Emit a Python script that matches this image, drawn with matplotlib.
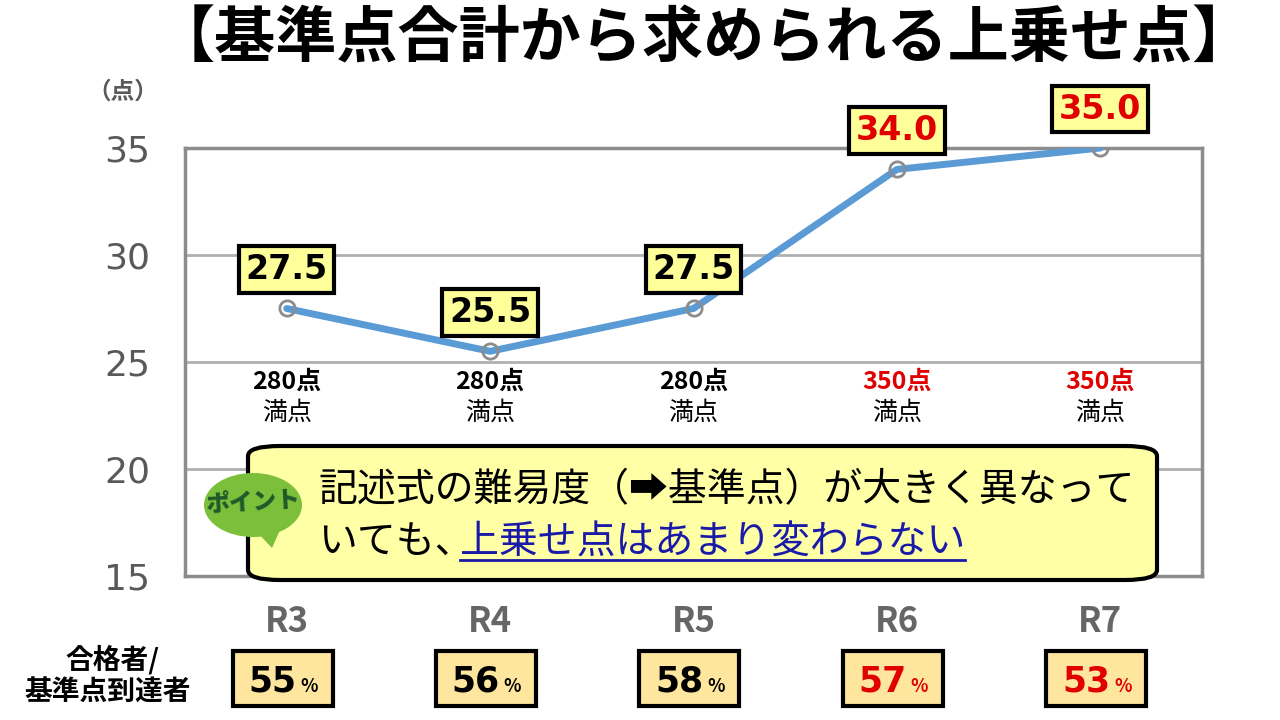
import matplotlib.pyplot as plt
from matplotlib.patches import FancyBboxPatch, Rectangle, Ellipse, Polygon
from matplotlib.transforms import blended_transform_factory
import numpy as np

plt.rcParams['font.family'] = ['Noto Sans CJK JP', 'DejaVu Sans']

# Data
years = ['R3', 'R4', 'R5', 'R6', 'R7']
bonus_points = [27.5, 25.5, 27.5, 34.0, 35.0]
full_scores = ['280点', '280点', '280点', '350点', '350点']
pass_rates = [55, 56, 58, 57, 53]
highlight = [False, False, False, True, True]

W, H = 1280, 720
fig = plt.figure(figsize=(12.8, 7.2), dpi=100)


def fx(x):
    return x / W


def fy(y):
    return 1 - y / H


ax = fig.add_axes([fx(185), fy(576), fx(1202) - fx(185), fy(148) - fy(576)])
x = np.arange(len(years))
ax.set_xlim(-0.5, len(years) - 0.5)
ax.set_ylim(15, 35)
ax.set_yticks([15, 20, 25, 30, 35])
ax.yaxis.grid(True, color='#b0b0b0', lw=2)
ax.set_axisbelow(True)
for s in ax.spines.values():
    s.set_color('#8c8c8c')
    s.set_linewidth(2.5)
ax.tick_params(axis='y', length=0, pad=25, labelsize=26, labelcolor='#595959')
ax.set_yticklabels(['15', '20', '25', '30', '35'], fontfamily='DejaVu Sans')
ax.set_xticks(x)
ax.set_xticklabels(years, fontsize=25, color='#666666', fontweight='bold')
ax.tick_params(axis='x', length=0, pad=20)

ax.plot(x, bonus_points, color='#5B9BD5', lw=5, solid_capstyle='round', zorder=3)
ax.plot(x, bonus_points, 'o', ms=11, mfc='none', mec='#8c8c8c', mew=2, zorder=4)

fig.text(fx(123), fy(92), '（点）', fontsize=17, color='#595959', ha='center', va='center',
         fontweight='bold')

# value labels
for xi, v, hl in zip(x, bonus_points, highlight):
    ax.annotate(f'{v:.1f}', (xi, v), xytext=(0, 28), textcoords='offset points',
                ha='center', va='center', fontsize=24, fontweight='bold',
                color='#e00000' if hl else 'black', fontfamily='DejaVu Sans',
                bbox=dict(boxstyle='square,pad=0.2', fc='#FFFF99', ec='black', lw=3),
                zorder=5)

tr = blended_transform_factory(ax.transData, fig.transFigure)

# full score labels
for xi, fs, hl in zip(x, full_scores, highlight):
    ax.text(xi, fy(382), fs, transform=tr, ha='center', va='center', fontsize=18,
            fontweight='bold', color='#e00000' if hl else 'black', zorder=5)
    ax.text(xi, fy(413), '満点', transform=tr, ha='center', va='center', fontsize=18,
            color='black', zorder=5)

# callout box
box = FancyBboxPatch((fx(248), fy(580)), fx(1157) - fx(248), fy(446) - fy(580),
                     boxstyle='round,pad=0,rounding_size=0.025', transform=fig.transFigure,
                     fc='#FFFFA6', ec='black', lw=3, zorder=6, mutation_aspect=H / W)
fig.add_artist(box)
fig.text(fx(318), fy(490), '記述式の難易度（➡基準点）が大きく異なって', fontsize=28,
         ha='left', va='center', zorder=7)
t1 = fig.text(fx(318), fy(543), 'いても、', fontsize=28, ha='left', va='center', zorder=7)
t2 = fig.text(fx(318), fy(543), '上乗せ点はあまり変わらない', fontsize=28, ha='left',
              va='center', color='#1a1aa8', zorder=7)
fig.canvas.draw()
r = fig.canvas.get_renderer()
e1 = t1.get_window_extent(r)
# the full-width comma leaves empty room on its right
t2.set_x((e1.x1 - 14) / W)
fig.canvas.draw()
e2 = t2.get_window_extent(r)
fig.add_artist(plt.Line2D([e2.x0 / W, e2.x1 / W], [fy(560), fy(560)],
                          transform=fig.transFigure, color='#1a1aa8', lw=2, zorder=7))

# point badge
fig.add_artist(Polygon([[fx(255), fy(530)], [fx(280), fy(530)], [fx(272), fy(548)]],
                       closed=True, transform=fig.transFigure, fc='#7cbf3a', ec='none', zorder=8))
fig.add_artist(Ellipse((fx(253), fy(505)), fx(98), 64 / H, transform=fig.transFigure,
                       fc='#7cbf3a', ec='none', zorder=8))
fig.text(fx(253), fy(503), 'ポイント', fontsize=17, fontweight='heavy', color='#1f5a2a',
         ha='center', va='center', zorder=9, rotation=3)

# pass rate row
fig.text(fx(112), fy(660), '合格者/', fontsize=20, fontweight='bold', ha='center', va='center')
fig.text(fx(108), fy(693), '基準点到達者', fontsize=20, fontweight='bold', ha='center', va='center')
bw = 100 / (1017 / len(years))
for xi, rate, hl in zip(x, pass_rates, highlight):
    rect = Rectangle((xi - bw / 2 - 0.02, fy(706)), bw, fy(651) - fy(706), transform=tr,
                     fc='#FFE69E', ec='black', lw=3, clip_on=False, zorder=5)
    ax.add_patch(rect)
    col = '#e00000' if hl else 'black'
    ax.text(xi - 0.07, fy(682), str(rate), transform=tr, ha='center', va='center', fontsize=25,
            fontweight='bold', color=col, fontfamily='DejaVu Sans', zorder=6)
    ax.text(xi + 0.11, fy(687), '%', transform=tr, ha='center', va='center', fontsize=13,
            fontweight='bold', color=col, zorder=6)

# title
fig.text(fx(704), fy(40), '【基準点合計から求められる上乗せ点】', fontsize=44, fontweight='bold',
         ha='center', va='center')

fig.savefig('out.png', dpi=100)
